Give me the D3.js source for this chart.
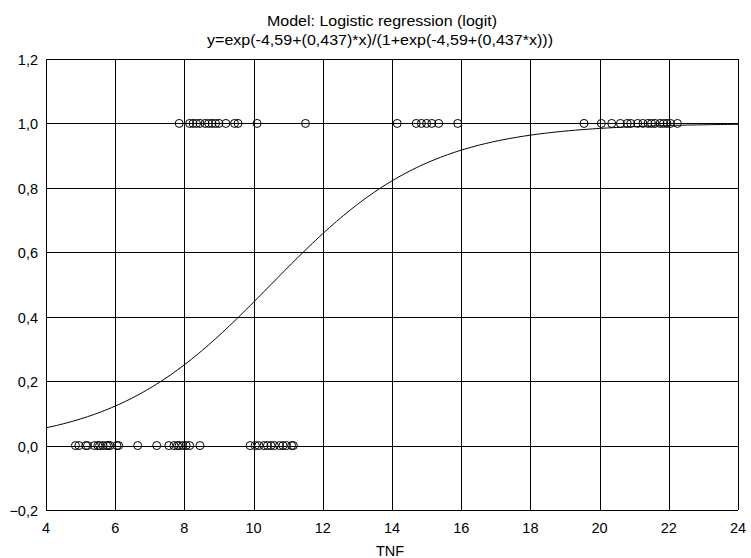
<!DOCTYPE html>
<html lang="en">
<head>
<meta charset="UTF-8">
<title>Logistic regression (logit)</title>
<script src="https://cdnjs.cloudflare.com/ajax/libs/d3/7.8.5/d3.min.js"></script>
<style>
  body { margin: 0; background: #fff; }
  text { font-family: "Liberation Sans", Arial, sans-serif; fill: #000; }
  .grid line { stroke: #000; stroke-width: 1; shape-rendering: crispEdges; }
</style>
</head>
<body>
<svg id="chart" width="751" height="558"></svg>
<script>
// --- Data ---
const tnfZero = [4.85, 4.95, 5.15, 5.2, 5.4, 5.5, 5.55, 5.65, 5.75, 5.8, 5.85, 6.05, 6.1,
                 6.65, 7.2, 7.55, 7.7, 7.8, 7.85, 7.95, 8.05, 8.15, 8.45,
                 9.9, 10.05, 10.15, 10.3, 10.4, 10.5, 10.6, 10.75, 10.85, 10.95, 11.1, 11.15];
const tnfOne = [7.85, 8.15, 8.25, 8.35, 8.45, 8.6, 8.7, 8.8, 8.9, 9.0, 9.2, 9.45, 9.55, 10.1, 11.5,
                14.15, 14.7, 14.85, 15.0, 15.15, 15.35, 15.9,
                19.55, 20.05, 20.35, 20.6, 20.8, 20.9, 21.1, 21.25, 21.4, 21.5, 21.6, 21.75, 21.85, 21.95, 22.05, 22.25];
const xTicks = [4, 6, 8, 10, 12, 14, 16, 18, 20, 22, 24];
const yTicks = [-0.2, 0, 0.2, 0.4, 0.6, 0.8, 1.0, 1.2];
const b0 = -4.59, b1 = 0.437;

const svg = d3.select("#chart");
const m = { left: 46, right: 738, top: 59, bottom: 510 };

const x = d3.scaleLinear().domain([4, 24]).range([m.left, m.right]);
const y = d3.scaleLinear().domain([-0.2, 1.2]).range([m.bottom, m.top]);
const fmt = v => d3.format(".1f")(v).replace(".", ",");

// grid
const grid = svg.append("g").attr("class", "grid");
grid.selectAll(".vx").data(xTicks).join("line")
  .attr("x1", d => Math.round(x(d)) + 0.5).attr("x2", d => Math.round(x(d)) + 0.5)
  .attr("y1", m.top).attr("y2", m.bottom);
grid.selectAll(".hy").data(yTicks).join("line")
  .attr("y1", d => Math.round(y(d)) + 0.5).attr("y2", d => Math.round(y(d)) + 0.5)
  .attr("x1", m.left).attr("x2", m.right);

// tick labels
svg.append("g").selectAll("text").data(xTicks).join("text")
  .attr("x", d => x(d)).attr("y", m.bottom + 23)
  .attr("text-anchor", "middle").attr("font-size", 14.5)
  .text(d => d);
svg.append("g").selectAll("text").data(yTicks).join("text")
  .attr("x", m.left - 8).attr("y", d => y(d) + 6)
  .attr("text-anchor", "end").attr("font-size", 14.5)
  .text(fmt);

// fitted curve
const curveX = d3.range(4, 24.001, 0.1);
const line = d3.line()
  .x(d => x(d))
  .y(d => y(Math.exp(b0 + b1 * d) / (1 + Math.exp(b0 + b1 * d))));
svg.append("path").datum(curveX)
  .attr("d", line).attr("fill", "none").attr("stroke", "#000").attr("stroke-width", 1);

// observations
const pts = tnfZero.map(v => [v, 0]).concat(tnfOne.map(v => [v, 1]));
svg.append("g").selectAll("circle").data(pts).join("circle")
  .attr("cx", d => x(d[0])).attr("cy", d => y(d[1]))
  .attr("r", 4).attr("fill", "none").attr("stroke", "#000").attr("stroke-width", 1);

// titles
svg.append("text").attr("x", 382).attr("y", 26).attr("text-anchor", "middle")
  .attr("font-size", 15).attr("textLength", 230).attr("lengthAdjust", "spacingAndGlyphs")
  .text("Model: Logistic regression (logit)");
svg.append("text").attr("x", 380).attr("y", 45).attr("text-anchor", "middle")
  .attr("font-size", 15).attr("textLength", 346).attr("lengthAdjust", "spacingAndGlyphs")
  .text("y=exp(-4,59+(0,437)*x)/(1+exp(-4,59+(0,437*x)))");
svg.append("text").attr("x", 390).attr("y", 556).attr("text-anchor", "middle")
  .attr("font-size", 14.5).text("TNF");
</script>
</body>
</html>
